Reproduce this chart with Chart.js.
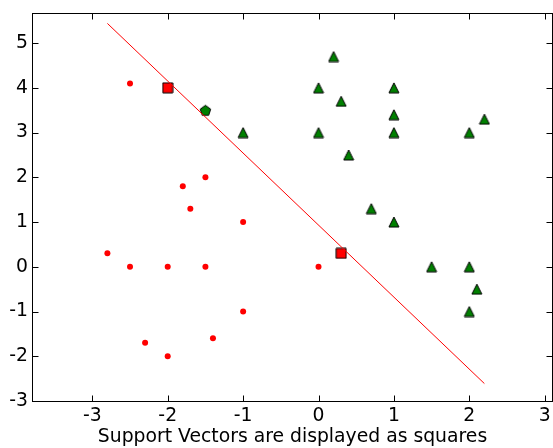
<!DOCTYPE html>
<html>
<head>
<meta charset="utf-8">
<script src="https://cdn.jsdelivr.net/npm/chart.js@4/dist/chart.umd.min.js"></script>
<style>
  html, body { margin: 0; padding: 0; background: #fff; }
  #wrap { width: 553px; height: 448px; }
</style>
</head>
<body>
<div id="wrap"><canvas id="c" width="553" height="448"></canvas></div>
<script>
// ---- data ----
const redX = [-2.5, -1.8, -1.5, -1.7, -1.0, -2.8, -2.5, -2.0, -1.5, 0.0, -1.0, -1.4, -2.3, -2.0];
const redY = [ 4.1,  1.8,  2.0,  1.3,  1.0,  0.3,  0.0,  0.0,  0.0, 0.0, -1.0, -1.6, -1.7, -2.0];
const greenX = [0.2, 0.0, 0.3, 1.0, 1.0, -1.0, 0.0, 1.0, 2.0, 2.2, 0.4, 0.7, 1.0, 1.5, 2.0, 2.1, 2.0];
const greenY = [4.7, 4.0, 3.7, 4.0, 3.4,  3.0, 3.0, 3.0, 3.0, 3.3, 2.5, 1.3, 1.0, 0.0, 0.0, -0.5, -1.0];
const svRedX = [-2.0, 0.3];
const svRedY = [ 4.0, 0.3];
const svGreenX = [-1.5];
const svGreenY = [ 3.5];
const lineX = [-2.8, 2.2];
const lineY = [5.44, -2.61];
const xTicks = [-3, -2, -1, 0, 1, 2, 3];
const yTicks = [-3, -2, -1, 0, 1, 2, 3, 4, 5];
const xLabel = 'Support Vectors are displayed as squares';

const pts = (xs, ys) => xs.map((x, i) => ({ x: x, y: ys[i] }));

// custom marker canvases (matplotlib-like shapes)
function marker(size, fill, drawPath) {
  const c = document.createElement('canvas');
  const s = size + 2;
  c.width = s; c.height = s;
  const g = c.getContext('2d');
  g.beginPath();
  drawPath(g, s / 2, s / 2, size / 2);
  g.closePath();
  g.fillStyle = fill;
  g.fill();
  g.lineWidth = 1;
  g.strokeStyle = '#000';
  g.stroke();
  return c;
}
const triMarker = marker(10, '#008000', (g, cx, cy, r) => {
  g.moveTo(cx, cy - r);
  g.lineTo(cx - r, cy + r);
  g.lineTo(cx + r, cy + r);
});
const sqMarker = marker(10, '#ff0000', (g, cx, cy, r) => {
  g.rect(cx - r, cy - r, 2 * r, 2 * r);
});
const pentMarker = marker(11, '#008000', (g, cx, cy, r) => {
  for (let i = 0; i < 5; i++) {
    const a = -Math.PI / 2 + i * 2 * Math.PI / 5;
    const px = cx + Math.cos(a) * r, py = cy + Math.sin(a) * r + 0.6;
    if (i === 0) g.moveTo(px, py); else g.lineTo(px, py);
  }
});

const FONT = { family: 'DejaVu Sans', size: 18.8 };

const framePlugin = {
  id: 'frame',
  afterDraw(chart) {
    const { ctx, chartArea: a, scales } = chart;
    ctx.save();
    ctx.strokeStyle = '#000';
    ctx.lineWidth = 1;
    const L = Math.round(a.left) + 0.5, R = Math.round(a.right) - 0.5;
    const T = Math.round(a.top) + 0.5, B = Math.round(a.bottom) + 0.5;
    ctx.beginPath();
    xTicks.forEach(v => {
      const px = Math.round(scales.x.getPixelForValue(v)) + 0.5;
      ctx.moveTo(px, B); ctx.lineTo(px, B - 6);
      ctx.moveTo(px, T); ctx.lineTo(px, T + 6);
    });
    yTicks.forEach(v => {
      const py = Math.round(scales.y.getPixelForValue(v)) + 0.5;
      ctx.moveTo(L, py); ctx.lineTo(L + 6, py);
      ctx.moveTo(R, py); ctx.lineTo(R - 6, py);
    });
    ctx.stroke();
    ctx.strokeRect(L, T, R - L, B - T);
    ctx.restore();
  }
};

function noPad(s) { s.paddingLeft = 0; s.paddingRight = 0; s.paddingTop = 0; s.paddingBottom = 0; }

new Chart(document.getElementById('c'), {
  type: 'scatter',
  data: {
    datasets: [
      { type: 'line', data: pts(lineX, lineY), borderColor: '#ff0000', borderWidth: 1,
        pointRadius: 0, fill: false, order: 0 },
      { data: pts(svRedX, svRedY), pointStyle: sqMarker, order: 1 },
      { data: pts(svGreenX, svGreenY), pointStyle: pentMarker, order: 1 },
      { data: pts(greenX, greenY), pointStyle: triMarker, order: 2 },
      { data: pts(redX, redY), pointStyle: 'circle', pointRadius: 3, backgroundColor: '#ff0000',
        borderWidth: 0, order: 3 }
    ]
  },
  options: {
    responsive: false,
    animation: false,
    events: [],
    layout: { autoPadding: false, padding: { top: 12.7, right: 0, left: 0, bottom: 0 } },
    plugins: { legend: { display: false }, tooltip: { enabled: false } },
    scales: {
      x: {
        type: 'linear', min: -3.8, max: 3.11,
        grid: { display: false, drawTicks: false }, border: { display: false },
        afterBuildTicks: s => { s.ticks = xTicks.map(v => ({ value: v })); },
        afterFit: s => { s.height = 47; noPad(s); },
        ticks: { font: FONT, color: '#000', padding: 4, maxRotation: 0, autoSkip: false,
                 callback: v => String(v) },
        title: { display: true, text: xLabel, font: FONT, color: '#000', padding: { top: 0, bottom: 0 } }
      },
      y: {
        type: 'linear', min: -3, max: 5.68,
        grid: { display: false, drawTicks: false }, border: { display: false },
        afterBuildTicks: s => { s.ticks = yTicks.map(v => ({ value: v })); },
        afterFit: s => { s.width = 32; noPad(s); },
        ticks: { font: FONT, color: '#000', padding: 4, autoSkip: false,
                 callback: v => String(v) }
      }
    }
  },
  plugins: [framePlugin]
});
</script>
</body>
</html>
